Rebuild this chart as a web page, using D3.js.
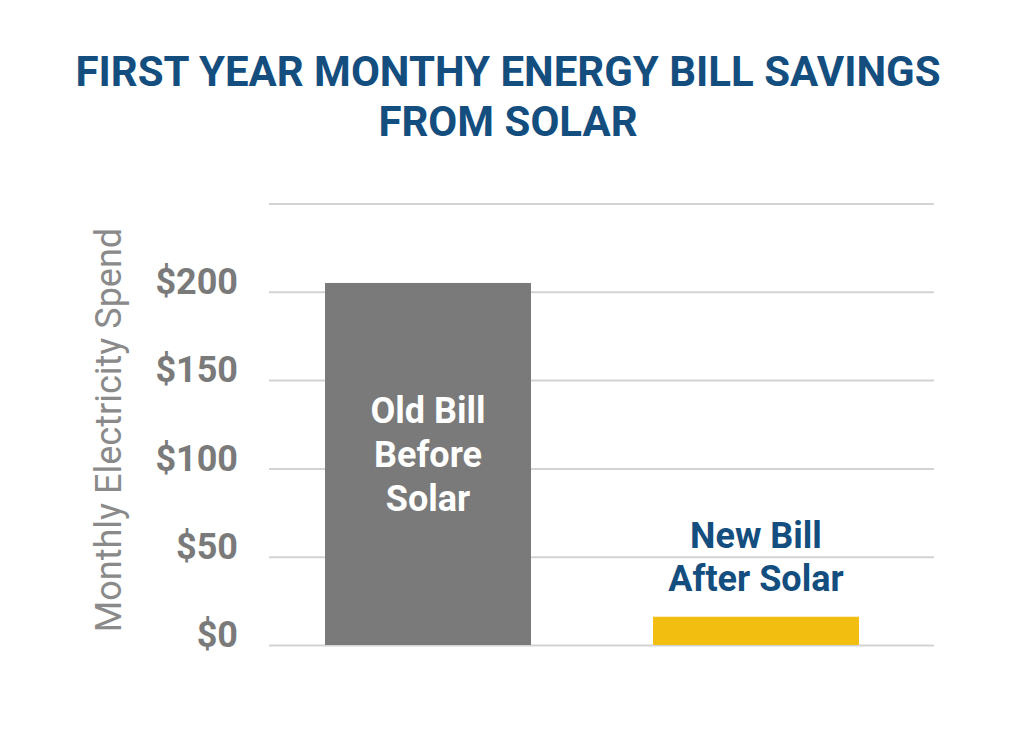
<!DOCTYPE html>
<html>
<head>
<meta charset="utf-8">
<script src="https://cdn.jsdelivr.net/npm/d3@7"></script>
<style>
  html, body { margin: 0; padding: 0; background: #fff; }
  svg { display: block; font-family: Roboto, "Noto Sans", sans-serif; }
</style>
</head>
<body>
<svg id="chart" width="1024" height="737"></svg>
<script>
const titleLines = ["FIRST YEAR MONTHY ENERGY BILL SAVINGS", "FROM SOLAR"];
const categories = ["Old Bill Before Solar", "New Bill After Solar"];
const values = [205, 16];
const barLabels = [["Old Bill", "Before", "Solar"], ["New Bill", "After Solar"]];
const tickValues = [0, 50, 100, 150, 200, 250];
const tickLabels = ["$0", "$50", "$100", "$150", "$200", ""];
const yTitle = "Monthly Electricity Spend";

const blue = "#134e7f";
const gray = "#7a7a7a";
const yellow = "#f2be0f";
const barColors = [gray, yellow];

const svg = d3.select("#chart");

// Title
svg.append("g").selectAll("text").data(titleLines).join("text")
  .attr("x", 508).attr("y", (d, i) => 86 + i * 50)
  .attr("text-anchor", "middle")
  .attr("font-size", 42).attr("font-weight", 700)
  .attr("fill", blue)
  .text(d => d);

const y = d3.scaleLinear().domain([0, 250]).range([645, 203.5]);
const x = d3.scaleBand().domain(categories).range([259.5, 924.5])
  .paddingInner(0.372).paddingOuter(0.1997);

const gridLeft = 269, gridRight = 934;

// Gridlines + tick labels via axis
const axis = d3.axisLeft(y).tickValues(tickValues)
  .tickSize(-(gridRight - gridLeft))
  .tickFormat((d, i) => tickLabels[i]);
const ag = svg.append("g").attr("transform", `translate(${gridLeft},0)`).call(axis);
ag.select(".domain").remove();
ag.selectAll(".tick line").attr("stroke", "#d3d3d3").attr("stroke-width", 2);
ag.selectAll(".tick text")
  .attr("x", -31).attr("dy", "0.05em")
  .attr("font-family", "Roboto, sans-serif")
  .attr("font-size", 36).attr("font-weight", 700)
  .attr("fill", "#7a7a7a");

// Bars
svg.append("g").selectAll("rect").data(values).join("rect")
  .attr("x", (d, i) => x(categories[i]))
  .attr("width", x.bandwidth())
  .attr("y", d => y(d))
  .attr("height", d => y(0) - y(d))
  .attr("fill", (d, i) => barColors[i]);

// Bar labels
const lab0 = svg.append("text")
  .attr("text-anchor", "middle").attr("font-size", 36).attr("font-weight", 700)
  .attr("fill", "#ffffff");
barLabels[0].forEach((t, j) => lab0.append("tspan")
  .attr("x", x(categories[0]) + x.bandwidth() / 2).attr("y", 423 + j * 44).text(t));

const lab1 = svg.append("text")
  .attr("text-anchor", "middle").attr("font-size", 36).attr("font-weight", 700)
  .attr("fill", blue);
barLabels[1].forEach((t, j) => lab1.append("tspan")
  .attr("x", x(categories[1]) + x.bandwidth() / 2).attr("y", 548 + j * 43).text(t));

// Y axis title
svg.append("text")
  .attr("transform", "translate(121,430) rotate(-90)")
  .attr("text-anchor", "middle")
  .attr("font-size", 36).attr("font-weight", 400)
  .attr("fill", "#8a8a8a")
  .text(yTitle);
</script>
</body>
</html>
